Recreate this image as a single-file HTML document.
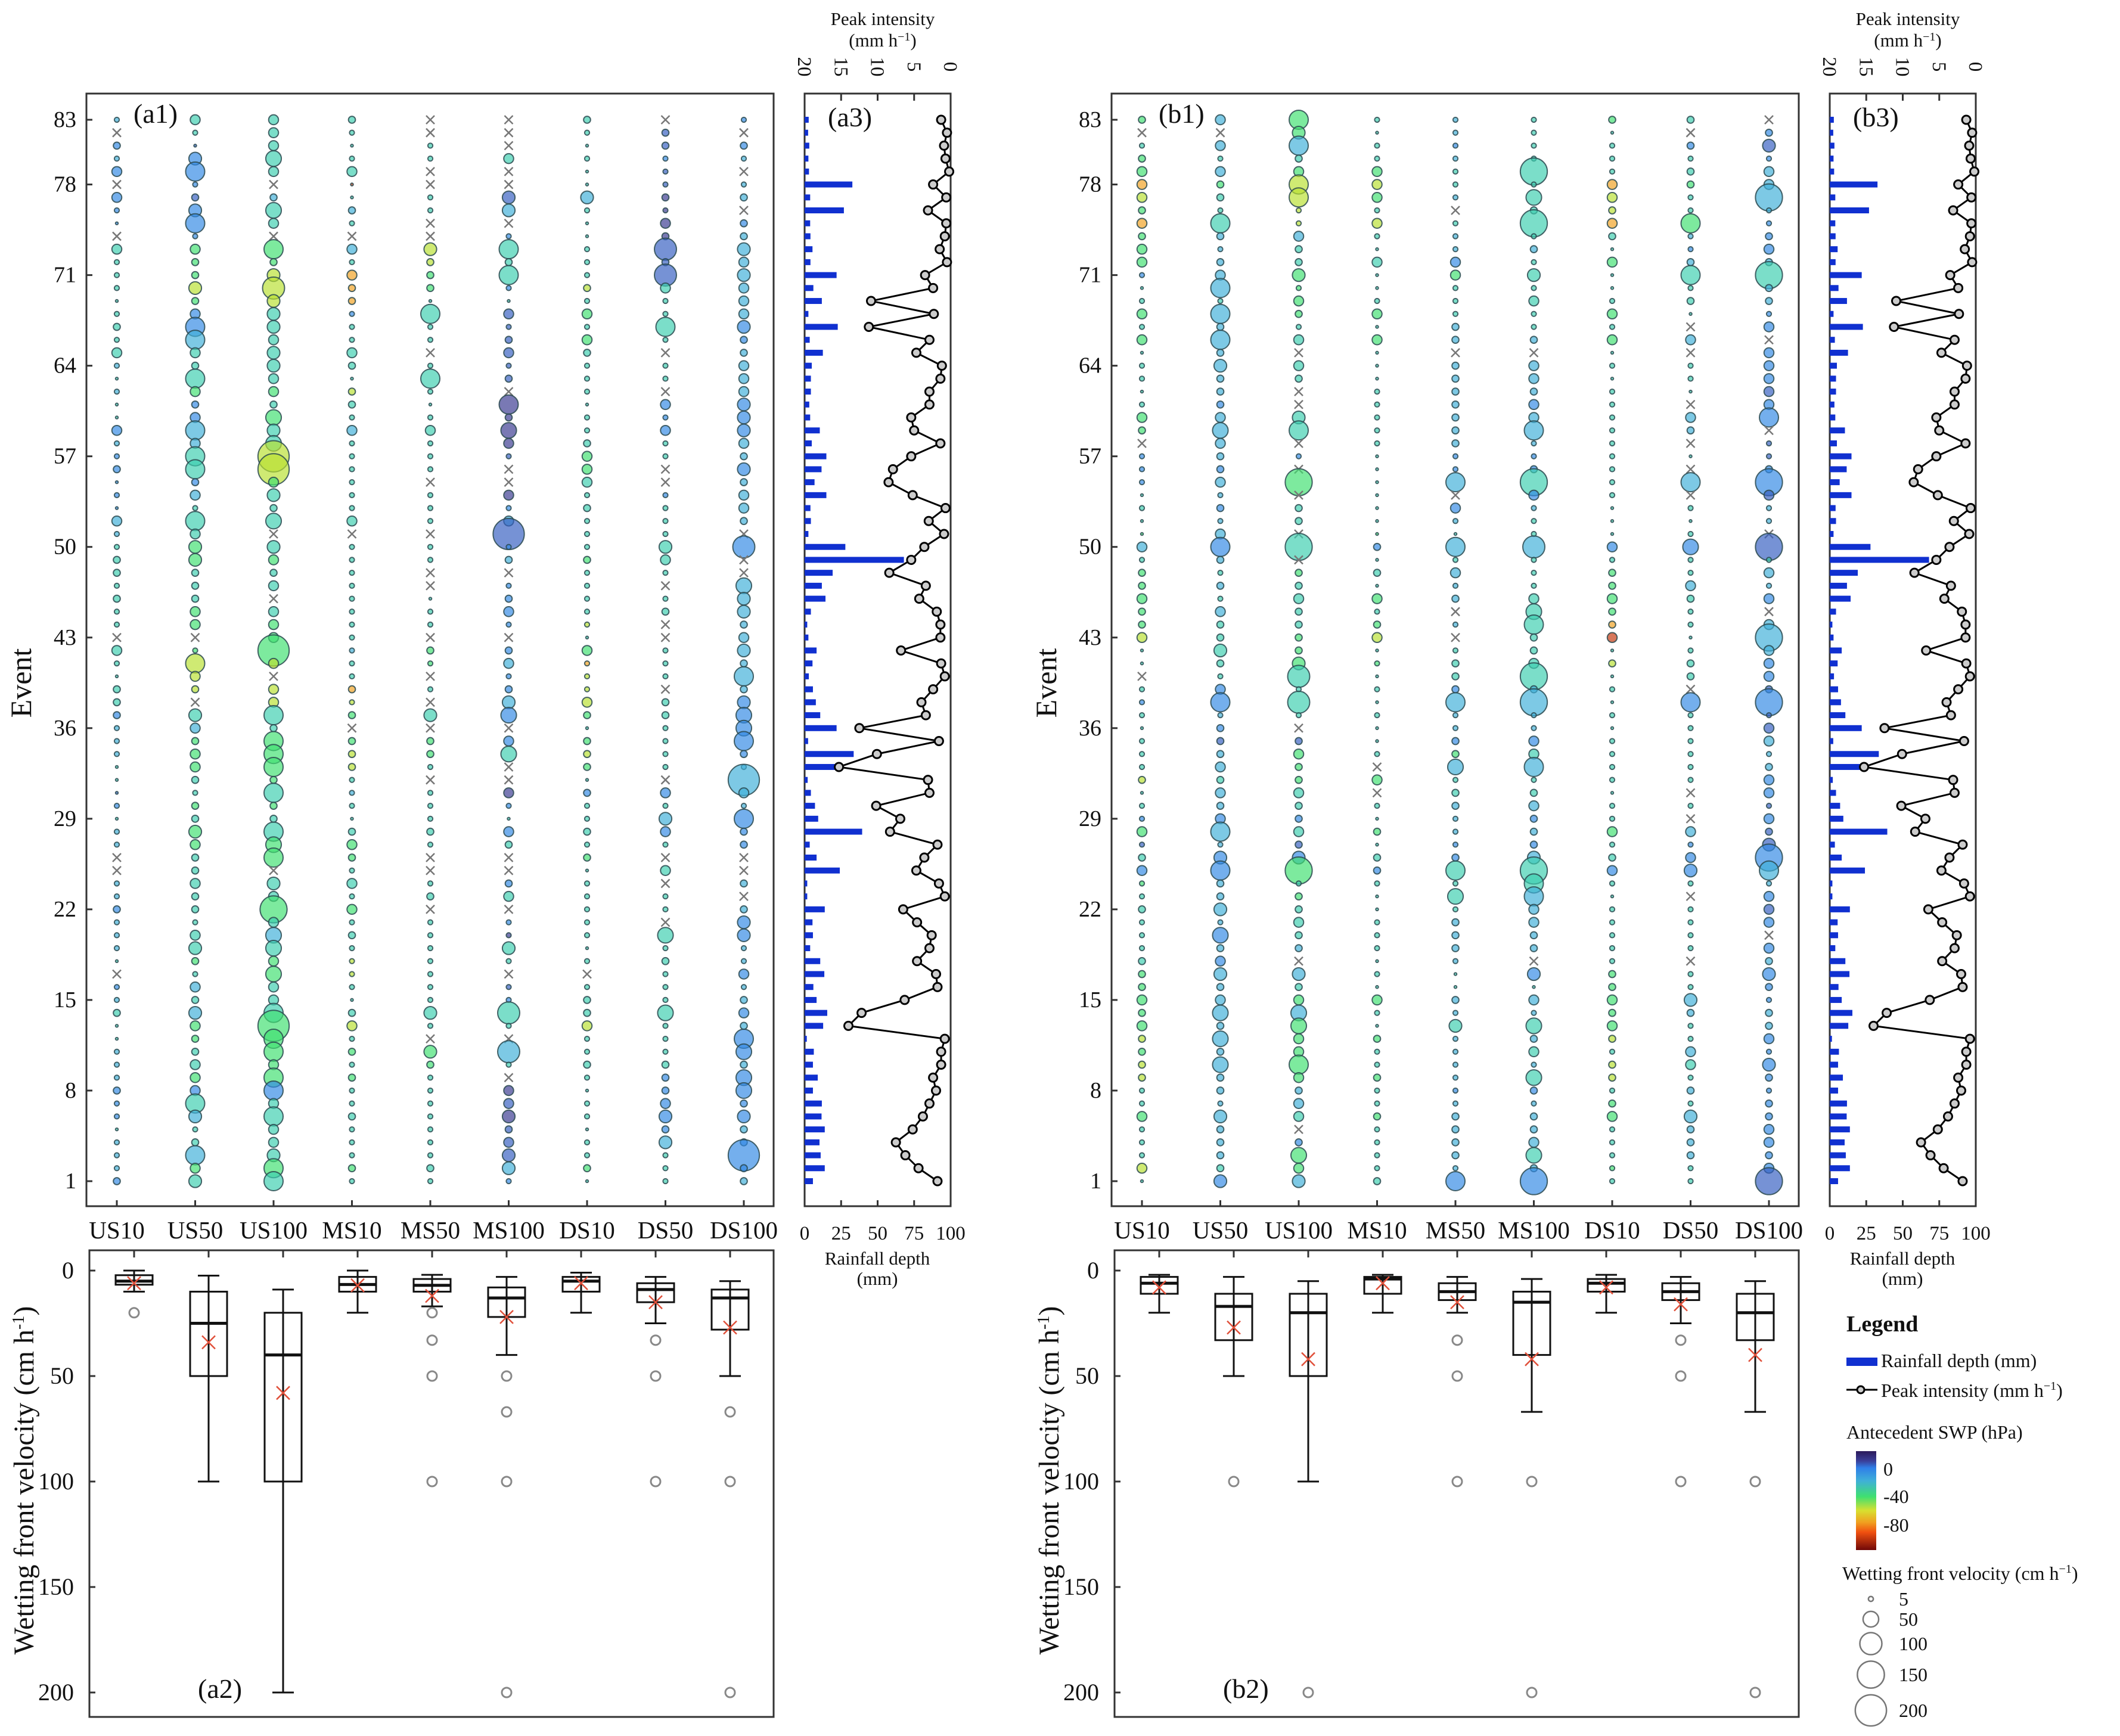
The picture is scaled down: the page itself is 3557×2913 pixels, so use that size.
<!DOCTYPE html>
<html><head><meta charset="utf-8"><title>Wetting front chart</title>
<style>
html,body{margin:0;padding:0;background:#fff;}
svg{display:block;font-family:"Liberation Serif","DejaVu Serif",serif;}
</style></head>
<body>
<svg id="chart" width="3557" height="2913" viewBox="0 0 3557 2913" xmlns="http://www.w3.org/2000/svg">
<rect x="0" y="0" width="3557" height="2913" fill="#fff"/>
<g id="root"></g>
<!-- Legend -->
<g font-size="32" fill="#111">
  <text x="3098" y="2234" font-size="38" font-weight="bold">Legend</text>
  <rect x="3098" y="2278" width="52" height="14" fill="#1030d0"/>
  <text x="3156" y="2294">Rainfall depth (mm)</text>
  <line x1="3098" y1="2332" x2="3150" y2="2332" stroke="#000" stroke-width="3"/>
  <circle cx="3122" cy="2332" r="6" fill="#ccc" stroke="#000" stroke-width="3"/>
  <text x="3156" y="2344">Peak intensity (mm h<tspan dy="-12" font-size="20">−1</tspan><tspan dy="12">)</tspan></text>
  <text x="3098" y="2414">Antecedent SWP (hPa)</text>
  <defs>
    <linearGradient id="cbar" x1="0" y1="0" x2="0" y2="1">
      <stop offset="0" stop-color="#2b1a5a"/>
      <stop offset="0.1" stop-color="#3b3f9a"/>
      <stop offset="0.17" stop-color="#2f7fe8"/>
      <stop offset="0.3" stop-color="#3fb0d8"/>
      <stop offset="0.46" stop-color="#3fe070"/>
      <stop offset="0.6" stop-color="#d8e030"/>
      <stop offset="0.72" stop-color="#f0a020"/>
      <stop offset="0.82" stop-color="#f05010"/>
      <stop offset="1" stop-color="#700808"/>
    </linearGradient>
  </defs>
  <rect x="3114" y="2435" width="34" height="166" fill="url(#cbar)"/>
  <text x="3160" y="2476">0</text>
  <text x="3160" y="2522">-40</text>
  <text x="3160" y="2570">-80</text>
  <text x="3091" y="2651">Wetting front velocity (cm h<tspan dy="-12" font-size="20">−1</tspan><tspan dy="12">)</tspan></text>
  <g id="sizeLegend"></g>
</g>
</svg>
<script>
// ---------- DATA ----------
// Bubble columns: tokens from event 83 (top) down to event 1. digit = velocity class, letter = SWP class, x = no data
const categories = ["US10","US50","US100","MS10","MS50","MS100","DS10","DS50","DS100"];
const velocityClass = {"0":1.5,"1":5,"2":10,"3":20,"4":33,"5":50,"6":75,"7":100,"8":150,"9":200};
const swpClass = {"p":12,"d":5,"b":-3,"c":-15,"t":-27,"g":-40,"y":-55,"o":-72,"r":-95};
const a1Columns = [
"1c x 2b 1c 3b x 3b 1b 0b x 3t 1t 1t 1t 0t 1t 2t 1t 3t 1c 0t 1c 0t 0t 3b 1c 1b 2b 0b 1b 0b 3c 1c 1t 2t 2t 1t 2t 1t 1t x 3t 1t 0t 2t 2t 2b 1c 1c 1c 0t 0t 0d 1b 0t 1c 1c x x 1c 1c 2b 1c 1c 1c 0t x 1b 1c 2t 0t 0t 1c 1c 1c 2b 1b 1b 0t 1c 1c 1c 2b",
"3t 1t 0d 4b 6b 1b 2d 4b 6b 1b 3g 2g 2g 4y 2g 3b 6b 6c 3t 2t 6t 3g 2b 3b 6c 3c 6t 6t 2b 3c 1t 6t 3t 4g 4g 2t 2t 2t 3g 3g x 1g 6y 3y 2y x 4t 3c 2g 3g 3g 2t 1t 2g 2t 4g 3g 2t 2t 3t 2t 2t 1t 3t 4t 2g 1t 3c 2t 4c 3g 2g 2t 3t 3g 3b 6t 4c 1t 2t 6c 3g 4t",
"3t 3t 3t 5t 3t x 2c 5t 3t x 6g 2g 4y 7y 4y 4t 4t 3t 4t 4t 3t 3g 2t 5g 4t 5t 9y 9y 3g 4t 2t 5t x 4t 3g 2t 3t x 3t 3g 3g 9g 3y x 3y 3y 6t 2t 6g 6g 6g 2g 6t 2g 2t 6t 5g 6g x 4t 3t 8g 3t 5c 5t 3g 5g 3t 3t 6t 9g 6g 6g 3g 6g 6b 3t 6t 3t 3t 4t 6g 6t",
"2t 1t 0t 1t 3t 0r 0t 2c 1t x 3c 1t 3o 2o 2o 1b 1t 1t 3t 2t 0t 2y 2t 1t 3c 1t 1t 1t 1t 1t 1t 3t x 1t 1t 1t 1t 1t 1t 1t 1t 1c 1t 1t 2o 1y 2g x 2g 2y 2y 1t 1c 1t 0t 2t 3g 2g 1t 3t 1t 3g 1t 2t 1t 1y 1y 1t 0t 2t 3y 1t 2g 1t 2g 1t 1t 2t 1t 1t 1t 2g 1t",
"x x 1t 1t x x 1t 1t x x 4y 2y 2g 2g 0t 6t 1t 1t x 1t 6t 1t 0t 1t 3t 1t 1t 1t x 1t 1t 1t x 1t 1t x x 0t 1t 1t x 2g 1g x 1t x 4t x 2g 2g 1t x 1t 1t 1t 2t 1t x x 1t 2t x 1t 1t 1t 1t 1t 1t 1t 4t 1t x 4g 2g 1t 1t 1t 1t 1t 1t 1t 2t 1t",
"x x x 3t x x 4d 4c x 1b 6t 2t 6t 1b 0t 3d 1d 2d 3d 1d 2d x 6p 2p 5p 3p 1d x x 3p 1b 3c 9d 1b 2c x 1b 2b 3b 1b x 2b 3c 1b 2b 4c 5b x 3b 5t x x 3p 1b 0t 3b 2t x x 2b 3t x 1b 1p 4t 1t x 1d 1b 7t 1t x 7c 1t x 3p 3d 4p 2d 3d 4d 4c 1b",
"2t 1t 0t 1t 0t 0t 4c 1t 0t 0t 1t 1t 1t 2y 1t 3g 1t 3g 2t 1t 1t 1t 0t 1t 1t 2t 3g 3g 3t 1t 2t 1t 1t 1t 2g 1t 1t 1t 1t 1y 0t 3g 1o 1y 1y 3y 2g 0t 2g 2y 2g 0t 2b 1t 1t 2t 1t 2g 0t 1t 1t 1t 1t 1t 0t 1t x 1t 2t 2t 3y 1t 1t 2t 1t 0t 1t 1t 0t 1t 1t 2g 0t",
"x 2d 2d 1b 1d 1d 2p 1p 3p 2p 7d 2d 7d 3t 1t 1t 6t 1t x 1t 1t x 3b 1b 3b 1t 1t x x 1b 1t 1t 1t 4t 3t 1t x 1t 2t x x 1t 1t 1t x 2t 2t 1t 1t 1t 1t x 3b 1t 4c 3b 1t x 3t x 1t 1t x 5t 1t 2t 1t 1t 1t 5t 1t 1t 1t 2t 2b 2b 3b 4b 2b 4c 1t 1t 1t",
"1b x 2b 1c x 1c 2c x 2b 2c 4c 3c 4c 3c 3c 3c 4b 2b 2c 3c 3c 3c 4b 4b 4b 3c 2c 4b 2c 3c 3c 2c x 7b x x 5c 4c 4c 2c 3c 4c 2c 6c 2c 4b 5b 5b 6b 2b 1c 9c 3c 1c 6b 2b 2b x x 2c x 2c 4b 4b 1c 1c 3b 1c 2c 3b 2c 6b 5b 2c 5b 5b 2b 4b 2c 2b 9b 2b 2c"
];
const b1Columns = [
"2g x 1t 2g 3g 3o 3y 2g 3o 2g 3g 3g 1b 0t 1t 3g 1t 3g 0t 1t 1t 0t 1t 3g 2g x 1b 1b 1b 0t 1t 0t 0g 3c 1t 2g 2g 3g 2g 2g 3y 0t 0t x 1t 1b 1t 0t 1t 1t 1t 2y 0t 1t 1b 3g 1d 2t 3b 1g 1t 2t 1t 1t 1t 2t 2g 2g 3g 2g 3g 2y 2g 2y 2y 1t 1t 3g 1t 1t 1t 3y 0t",
"3c x 3c 1t 3c 2g 2t 1t 6t 2c 1c 2c 3c 6c 1t 6c 2c 6c 2c 4c 2c 2c 2b 3c 5c 3c 2c 2b 3c 1c 2b 1c 3c 6b 2c 1t 2c 1t 3c 2t 2t 4t 2t 1t 3b 6b 1c 2b 2d 2c 3c 2t 3c 2c 3b 6c 1c 4b 6b 2c 2c 4c 1c 5b 2c 3b 4c 2c 3c 5c 2c 5c 2c 5c 2c 2c 1c 4c 2c 2c 2c 2t 4b",
"6g 4g 6c 2t 3g 6y 6y 1y 1y 3c 2t 2t 4g 1g 3g 2g 1t 3t x 3t 2t x x 4t 6t x 1b x 8g x 2t 2t x 8t x 2g 2t 3t 2t 2t 2g 2g 4g 7t 1t 7t 1t x 2d 3g 2g 2g 3t 2t 2b 3t 2d 4b 8g 1t 2g 2t 3t 2t 2c x 4c 2t 3g 5c 5g 3g 3g 6g 3g 2c 3c 3t x 2b 5g 3g 4c",
"1t 0t 1t 1t 3g 3y 3g 1t 3y 1t 0t 3t 0t 0t 1t 3g 0t 3g 0t 0t 0t 1t 1t 1t 1t 1t 0t 0t 0t 0t 0t 0t 0g 2b 0t 2t 0t 3g 1t 2g 3y 0t 1g 0t 1t 0t 1t 0t 0t 1t x 3g x 1t 0t 2g 0t 2t 2b 1t 0t 0t 1t 1t 1t 0t 1t 0t 3g 1t 0t 2g 1t 1t 2g 1t 1t 2g 1t 1t 1t 1t 2t",
"1c 1c 1b 1c 1t 1t 1c x 1t 1c 1c 3b 3g 1t 1t 1t 2c 2c x 2c 2c 2c 2c 2c 2c 2c 1b 1b 6c x 3b 1c 0t 6c 1t 3c 1c 2c x 1c x 1t 2t 2t 2b 6c 1c 1c 2b 2g 5c 1t 2t 2c 1c 1c 1b 2b 6t 1t 5t 1t 2c 2c 2c 1c 0t 0t 2c 1c 4t 1c 1c 1c 1c 1b 1c 2c 2c 2c 2c 1c 6b",
"1t 1t 1t 1t 8t 1t 5t 2t 8t 1t 2c 1t 4t 1t 3t 1t 1t 2c x 3c 3c 2c 3b 3c 6c 1c 1b 2b 8t 3b 1c 1t 1t 7c 1t 1t 1t 3t 5t 6t 2t 2t 3t 8t 2c 8c 1c 1c 3b 3t 6c 1t 2t 3c 2b 2c 2b 4c 8t 6t 6c 3c 3c 2c 2c x 4b 0t 3c 1c 5t 2c 3t 1c 5t 2b 1c 2c 2c 3c 5t 2c 8b",
"2g 0t 1t 1t 1t 3o 3y 2y 3o 2t 0t 3g 0t 0t 1t 3g 1t 3g 0t 1t 0t 1t 1t 1t 1t 1t 1t 1t 1t 1t 0t 0t 0t 3b 1t 2g 2g 3g 2g 2o 3r 0t 2y 0t 1t 0t 1t 0t 1t 1t 1t 1t 0t 1t 1t 3g 1t 2t 3b 1t 0t 1t 1t 1t 1t 1t 2g 2g 3g 2g 3g 2y 1t 2y 2y 1t 2g 3g 1t 1t 1t 1g 1t",
"2t x 2b 1t 2t 2g 1t 1t 6g 1c 1b 2c 6t 1t 2t 0t x 3c x 1t 1t 0t x 3c 2c x 0t x 6c x 1t 0t 1t 5b 1t 1t 3c 2t 1t 1t 0t 1t 2t 2t x 6b 1t 1t 1t 1t 1t 1t x 1t x 3c 1b 3b 4b 1t x 1t 1t 1t 1t x 1t 1t 4c 2c 1t 1t 3c 3t 1t 2c 1t 4c 2c 2c 2c 1t 1t",
"x 2b 4d 1b 3c 3c 8c 1c 1b 2b 3b 2c 8t 2c 2c 1b 3b x 3b 3b 3b 3d 3b 6b x 1d 1d 2b 8b 3d 1c 1c x 8d 1t 3c 1c 3b x 3c 8c 3c 3b 3b 2d 8b 1d 3d 3c 1c 2c 3b 3b 1d 3b 2d 4d 8b 6c 1c 3b 3d 3b x 3b 2c 4b 2b 1b 2c 2c 3b 1b 4b 2b 1b 2b 2b 3b 3b 2b 3b 8d"
];
// Rainfall depth (mm) and peak intensity (mm/h), event 83 down to event 1
const rainfallDepth = [2.8,2.4,3.2,2.6,3,32.7,3.8,26.9,3.8,4,5.4,4,21.9,6,11.8,2.6,22.7,3.5,12.5,4.9,4.3,4.3,3.2,3.8,10.4,4.9,14.9,11.6,6.8,14.9,4,4.3,2.6,27.9,68,19.2,11.8,14.3,4.3,1.8,2.6,8.2,5.4,2.9,5.7,7.7,10.7,21.9,2.4,33.6,22,2.1,4.3,7.1,9.3,39.4,3.5,8.2,24.1,1.8,1.8,13.8,5.4,5.7,3.8,10.7,13.5,6,8.2,15.5,12.7,1.5,6.3,5.7,9,5.7,11.8,11.6,13.8,10.2,11,13.8,5.7];
const peakIntensity = [1.3,0.5,0.9,0.7,0.2,2.4,0.6,3.1,0.6,0.8,1.5,0.5,3.5,2.4,10.9,2.3,11.2,2.9,4.7,1.2,1.4,2.9,2.9,5.4,5,1.4,5.4,7.9,8.5,5.2,0.7,3,0.9,3.6,5.4,8.4,3.4,4.3,1.9,1.4,1.4,6.8,1.3,0.8,2.4,4,3.4,12.5,1.6,10.1,15.3,3.1,2.9,10.2,6.9,8.3,1.8,3.6,4.7,1.6,0.8,6.5,4.6,2.6,2.9,4.6,2,1.8,6.3,12.2,14,0.8,1.3,1.3,2.4,2,2.9,3.8,5.2,7.5,6.2,4.4,1.8];
// Box plots (cm/h)
const a2Q1 = [2.2,10,20,3,4,8,3,6,9];
const a2Med = [5,25,40,6.6,7,13,5,9,13];
const a2Q3 = [6.7,50,100,10,10,22,10,15,28];
const a2Lo = [0,2.4,9,0,2,3,1,3,5];
const a2Hi = [10,100,200,20,17,40,20,25,50];
const a2Mean = [6,34,58,7,12,22,6,15,27];
const a2Out = [[20],[],[],[],[20,33,50,100],[50,67,100,200],[],[33,50,100],[67,100,200]];
const b2Q1 = [3,11,11,3,6,10,4,6,11];
const b2Med = [6,17,20,4,10,15,6,10,20];
const b2Q3 = [11,33,50,11,14,40,10,14,33];
const b2Lo = [2,3,5,2,3,4,2,3,5];
const b2Hi = [20,50,100,20,20,67,20,25,67];
const b2Mean = [8,27,42,6,15,42,8,16,40];
const b2Out = [[],[100],[200],[],[33,50,100],[100,200],[],[33,50,100],[100,200]];
const eventTicks = [83,78,71,64,57,50,43,36,29,22,15,8,1];
const velTicks = [0,50,100,150,200];
const rainTicks = [0,25,50,75,100];
const intTicks = [20,15,10,5,0];
const sizeLegendValues = [5,50,100,150,200];

// ---------- helpers ----------
const NS = "http://www.w3.org/2000/svg";
const root = document.getElementById("root");
function mk(tag, attrs, parent){
  const e = document.createElementNS(NS, tag);
  for (const k in attrs) e.setAttribute(k, attrs[k]);
  (parent||root).appendChild(e);
  return e;
}
const stops = [[24,[43,26,90]],[10,[59,63,154]],[0,[47,127,232]],[-15,[63,176,216]],[-27,[60,207,176]],[-40,[63,224,112]],[-55,[184,224,48]],[-72,[240,160,32]],[-85,[240,80,16]],[-114,[112,8,8]]];
function swpColor(v){
  if (v >= stops[0][0]) return "rgb("+stops[0][1].join(",")+")";
  for (let i=0;i<stops.length-1;i++){
    const a=stops[i], b=stops[i+1];
    if (v<=a[0] && v>=b[0]){
      const t=(a[0]-v)/(a[0]-b[0]);
      const c=a[1].map((x,j)=>Math.round(x+(b[1][j]-x)*t));
      return "rgb("+c.join(",")+")";
    }
  }
  return "rgb(112,8,8)";
}
const rOf = v => 1.85*Math.sqrt(v);
const eventY = e => 1982 - (e-1)*21.72;

function drawPanel(dx, cols, label, q1, med, q3, lo, hi, mean, outs, boxLabel, l3){
  const g = mk("g", {});
  
  
  const colX = k => dx + 196 + 131.5*k;
  // bubble frame
  const fr = mk("rect", {x:dx+145,y:157,width:1153,height:1867,fill:"none",stroke:"#333","stroke-width":3}, g);
  
  
  const t1 = mk("text", {x:dx+224,y:206,"font-size":46,fill:"#111"}, g);
  t1.textContent = "(" + label + "1)";
  
  
  eventTicks.forEach(ev=>{
    const y=eventY(ev);
    mk("line",{x1:dx+145,y1:y,x2:dx+155,y2:y,stroke:"#333","stroke-width":3},g);
    const t = mk("text",{x:dx+128,y:y+12,"text-anchor":"end","font-size":38,fill:"#111"},g);
    t.textContent = ev;
    
    
  });
  const et = mk("text",{transform:"rotate(-90 "+(dx+52)+" 1146)",x:dx+52,y:1146,"text-anchor":"middle","font-size":50,fill:"#111"},g);
  et.textContent = "Event";
  
  
  cols.forEach((str,k)=>{
    const x = colX(k);
    mk("line",{x1:x,y1:2024,x2:x,y2:2014,stroke:"#333","stroke-width":3},g);
    const ct = mk("text",{x:x,y:2078,"text-anchor":"middle","font-size":41,fill:"#111"},g);
    ct.textContent = categories[k];
    
    
    const toks = str.trim().split(/\s+/);
    const cg = mk("g",{},g);
    
    
    toks.forEach((tk,i)=>{
      const ev = 83 - i;
      const y = eventY(ev);
      if (tk === "x"){
        const xg = mk("path",{d:"M"+(x-7)+" "+(y-7)+"L"+(x+7)+" "+(y+7)+"M"+(x+7)+" "+(y-7)+"L"+(x-7)+" "+(y+7),stroke:"#777","stroke-width":2.5,fill:"none"},cg);
        
        
      } else {
        const v = velocityClass[tk[0]], s = swpClass[tk[1]];
        const c = mk("circle",{cx:x,cy:y,r:rOf(v),fill:swpColor(s),"fill-opacity":0.68,stroke:"#2c4a50","stroke-opacity":0.85,"stroke-width":2},cg);
        
        
      }
    });
  });
  // box panel
  const vY = v => 2132 + v*3.54;
  const bx = k => dx + 225 + 125*k;
  const f2 = mk("rect",{x:dx+150,y:2098,width:1148,height:783,fill:"none",stroke:"#333","stroke-width":3},g);
  
  
  velTicks.forEach(v=>{
    mk("line",{x1:dx+150,y1:vY(v),x2:dx+160,y2:vY(v),stroke:"#333","stroke-width":3},g);
    const t = mk("text",{x:dx+124,y:vY(v)+13,"text-anchor":"end","font-size":40,fill:"#111"},g);
    t.textContent = v;
    
    
  });
  const vt = mk("text",{transform:"rotate(-90 "+(dx+56)+" 2484)",x:dx+56,y:2484,"text-anchor":"middle","font-size":48,fill:"#111"},g);
  vt.innerHTML = 'Wetting front velocity (cm h<tspan dy="-16" font-size="28">-1</tspan><tspan dy="16">)</tspan>';
  
  
  const t2 = mk("text",{x:dx+332,y:2849,"font-size":46,fill:"#111"},g);
  t2.textContent = "(" + label + "2)";
  
  
  for (let k=0;k<9;k++){
    const x = bx(k), hw=31, cw=18;
    mk("line",{x1:x,y1:2098,x2:x,y2:2110,stroke:"#333","stroke-width":3},g);
    const bg = mk("g",{stroke:"#111","stroke-width":3,fill:"none"},g);
    
    
    mk("line",{x1:x,y1:vY(lo[k]),x2:x,y2:vY(hi[k])},bg);
    mk("line",{x1:x-cw,y1:vY(lo[k]),x2:x+cw,y2:vY(lo[k])},bg);
    mk("line",{x1:x-cw,y1:vY(hi[k]),x2:x+cw,y2:vY(hi[k])},bg);
    mk("rect",{x:x-hw,y:vY(q1[k]),width:2*hw,height:vY(q3[k])-vY(q1[k]),fill:"none"},bg);
    mk("line",{x1:x-hw,y1:vY(med[k]),x2:x+hw,y2:vY(med[k]),"stroke-width":5},bg);
    const my=vY(mean[k]);
    mk("path",{d:"M"+(x-11)+" "+(my-11)+"L"+(x+11)+" "+(my+11)+"M"+(x+11)+" "+(my-11)+"L"+(x-11)+" "+(my+11),stroke:"#e0503a","stroke-width":2.5},bg);
    outs[k].forEach(o=>{
      const oc = mk("circle",{cx:x,cy:vY(o),r:8,fill:"none",stroke:"#888","stroke-width":3},g);
      
      
    });
  }
  // rainfall / intensity panel
  const rX = v => dx + 1350 + v*2.45;
  const iX = v => dx + 1595 - v*12.25;
  const f3 = mk("rect",{x:dx+1350,y:157,width:245,height:1867,fill:"none",stroke:"#333","stroke-width":3},g);
  
  
  const t3 = mk("text",{x:dx+1389,y:212,"font-size":46,fill:"#111"},g);
  t3.textContent = "(" + label + "3)";
  
  
  rainTicks.forEach(v=>{
    mk("line",{x1:rX(v),y1:2024,x2:rX(v),y2:2014,stroke:"#333","stroke-width":3},g);
    const t = mk("text",{x:rX(v),y:2080,"text-anchor":"middle","font-size":33,fill:"#111"},g);
    t.textContent = v;
    
    
  });
  const rt1 = mk("text",{x:dx+1472,y:2122,"text-anchor":"middle","font-size":31,fill:"#111"},g);
  rt1.textContent = "Rainfall depth";
  
  
  const rt2 = mk("text",{x:dx+1472,y:2156,"text-anchor":"middle","font-size":31,fill:"#111"},g);
  rt2.textContent = "(mm)";
  
  
  intTicks.forEach(v=>{
    mk("line",{x1:iX(v),y1:157,x2:iX(v),y2:169,stroke:"#333","stroke-width":3},g);
    const t = mk("text",{transform:"rotate(90 "+iX(v)+" 112)",x:iX(v),y:123,"text-anchor":"middle","font-size":33,fill:"#111"},g);
    t.textContent = v;
    
    
  });
  const pt1 = mk("text",{x:dx+1481,y:42,"text-anchor":"middle","font-size":31,fill:"#111"},g);
  pt1.textContent = "Peak intensity";
  
  
  const pt2 = mk("text",{x:dx+1481,y:78,"text-anchor":"middle","font-size":31,fill:"#111"},g);
  pt2.innerHTML = '(mm h<tspan dy="-10" font-size="20">−1</tspan><tspan dy="10">)</tspan>';
  
  
  rainfallDepth.forEach((v,i)=>{
    const y = eventY(83-i);
    const b = mk("rect",{x:rX(0),y:y-5,width:rX(v)-rX(0),height:10,fill:"#1030d0"},g);
    
    
  });
  let d="";
  peakIntensity.forEach((v,i)=>{ d += (i?"L":"M") + iX(v) + " " + eventY(83-i); });
  const ln = mk("path",{d:d,fill:"none",stroke:"#000","stroke-width":3},g);
  
  
  peakIntensity.forEach((v,i)=>{
    const c = mk("circle",{cx:iX(v),cy:eventY(83-i),r:7,fill:"#ccc",stroke:"#000","stroke-width":3},g);
    
    
  });
}
drawPanel(0, a1Columns, "a", a2Q1, a2Med, a2Q3, a2Lo, a2Hi, a2Mean, a2Out);
drawPanel(1720, b1Columns, "b", b2Q1, b2Med, b2Q3, b2Lo, b2Hi, b2Mean, b2Out);

// size legend
const sl = document.getElementById("sizeLegend");
const slY = [2683,2717,2758,2810,2870];
sizeLegendValues.forEach((v,i)=>{
  const c = mk("circle",{cx:3139,cy:slY[i],r:rOf(v),fill:"none",stroke:"#777","stroke-width":2.5},sl);
  
  
  const t = mk("text",{x:3186,y:slY[i]+11,"font-size":32,fill:"#111"},sl);
  t.textContent = v;
  
  
});
</script>
</body></html>
